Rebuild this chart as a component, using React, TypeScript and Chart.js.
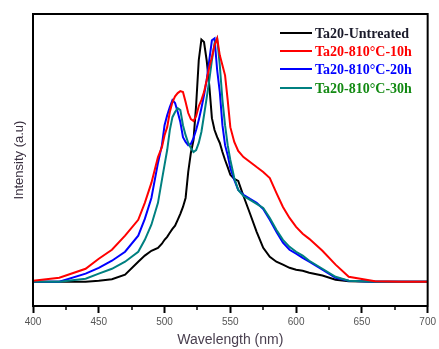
import React, { useEffect, useRef } from "react";
import { Chart, registerables } from "chart.js";

Chart.register(...registerables);

const wavelengths = [400, 420, 440, 450, 460, 470, 480, 485, 490, 495, 498, 500, 502, 504, 506, 508, 510, 512, 514, 516, 518, 520, 522, 524, 526, 528, 530, 532, 534, 536, 538, 540, 542, 544, 546, 548, 550, 553, 556, 560, 565, 570, 575, 580, 585, 590, 595, 600, 605, 610, 620, 630, 640, 660, 680, 700];

const untreated = [0, 0, 0, 0.004, 0.01, 0.029, 0.082, 0.107, 0.127, 0.139, 0.156, 0.172, 0.184, 0.201, 0.217, 0.23, 0.254, 0.279, 0.307, 0.344, 0.451, 0.529, 0.582, 0.725, 0.91, 0.995, 0.985, 0.91, 0.807, 0.672, 0.623, 0.594, 0.57, 0.533, 0.5, 0.471, 0.439, 0.422, 0.414, 0.352, 0.279, 0.205, 0.139, 0.102, 0.082, 0.07, 0.057, 0.049, 0.045, 0.037, 0.025, 0.008, 0.002, 0, 0, 0];

const h10 = [0.004, 0.016, 0.053, 0.094, 0.131, 0.189, 0.254, 0.324, 0.406, 0.512, 0.553, 0.602, 0.635, 0.697, 0.738, 0.762, 0.775, 0.783, 0.779, 0.738, 0.693, 0.668, 0.66, 0.68, 0.721, 0.746, 0.779, 0.828, 0.881, 0.922, 0.971, 1.0, 0.93, 0.889, 0.848, 0.746, 0.635, 0.574, 0.537, 0.512, 0.492, 0.471, 0.451, 0.426, 0.365, 0.307, 0.262, 0.225, 0.197, 0.176, 0.127, 0.07, 0.02, 0.002, 0, 0];

const h20 = [0, 0, 0.033, 0.057, 0.086, 0.123, 0.189, 0.258, 0.344, 0.488, 0.561, 0.643, 0.684, 0.717, 0.746, 0.734, 0.697, 0.656, 0.594, 0.574, 0.561, 0.566, 0.59, 0.623, 0.664, 0.713, 0.766, 0.828, 0.91, 0.992, 1.0, 0.869, 0.779, 0.643, 0.561, 0.52, 0.467, 0.418, 0.377, 0.357, 0.34, 0.324, 0.299, 0.254, 0.205, 0.16, 0.131, 0.115, 0.098, 0.082, 0.049, 0.016, 0.004, 0, 0, 0];

const h30 = [0, 0, 0.012, 0.033, 0.053, 0.082, 0.123, 0.172, 0.234, 0.324, 0.418, 0.48, 0.541, 0.623, 0.676, 0.697, 0.713, 0.705, 0.643, 0.602, 0.57, 0.549, 0.533, 0.541, 0.57, 0.615, 0.684, 0.754, 0.828, 0.91, 0.98, 1.0, 0.889, 0.746, 0.643, 0.561, 0.5, 0.426, 0.377, 0.352, 0.336, 0.32, 0.303, 0.262, 0.213, 0.172, 0.143, 0.123, 0.107, 0.086, 0.053, 0.02, 0.004, 0, 0, 0];

const seriesNames = ["Ta20-Untreated", "Ta20-810\u00B0C-10h", "Ta20-810\u00B0C-20h", "Ta20-810\u00B0C-30h"];
const lineColors = ["#000000", "#ff0000", "#0000ff", "#008080"];
const textColors = ["#1a1a2a", "#ff0000", "#0000ff", "#138a13"];
const majorTicks = [400, 450, 500, 550, 600, 650, 700];
const minorTicks = [425, 475, 525, 575, 625, 675];

export default function App() {
  const ref = useRef<HTMLCanvasElement | null>(null);

  useEffect(() => {
    const canvas = ref.current;
    if (!canvas) return;
    const series = [untreated, h10, h20, h30];
    const orders = [3, 0, 2, 1];

    const framePlugin = {
      id: "frame",
      afterDraw(chart: any) {
        const { ctx, chartArea } = chart;
        const xs = chart.scales.x;
        ctx.save();
        ctx.strokeStyle = "#000";
        ctx.lineWidth = 2;
        ctx.strokeRect(chartArea.left, chartArea.top, chartArea.right - chartArea.left, chartArea.bottom - chartArea.top);
        // minor ticks
        ctx.lineWidth = 1.5;
        ctx.beginPath();
        minorTicks.forEach((v) => {
          const px = Math.round(xs.getPixelForValue(v));
          ctx.moveTo(px, chartArea.bottom);
          ctx.lineTo(px, chartArea.bottom + 4);
        });
        ctx.stroke();
        // legend
        const x0 = 280, x1 = 312, tx = 315;
        const ys = [33, 51, 69, 88];
        ctx.font = "bold 14px 'Liberation Serif', serif";
        ctx.textBaseline = "middle";
        ctx.textAlign = "left";
        seriesNames.forEach((name, i) => {
          ctx.strokeStyle = lineColors[i];
          ctx.lineWidth = 2;
          ctx.beginPath();
          ctx.moveTo(x0, ys[i]);
          ctx.lineTo(x1, ys[i]);
          ctx.stroke();
          ctx.fillStyle = textColors[i];
          ctx.fillText(name, tx, ys[i] + 1);
        });
        ctx.restore();
      },
    };

    const chart = new Chart(canvas, {
      type: "line",
      data: {
        datasets: series.map((vals, i) => ({
          label: seriesNames[i],
          data: wavelengths.map((w, j) => ({ x: w, y: vals[j] })),
          borderColor: lineColors[i],
          backgroundColor: lineColors[i],
          borderWidth: 2,
          pointRadius: 0,
          tension: 0,
          fill: false,
          order: orders[i],
        })),
      },
      options: {
        animation: false,
        responsive: false,
        maintainAspectRatio: false,
        layout: { padding: { top: 14, right: 11, left: 0, bottom: 0 } },
        plugins: {
          legend: { display: false },
          tooltip: { enabled: false },
        },
        scales: {
          x: {
            type: "linear",
            min: 400,
            max: 700,
            afterBuildTicks: (scale: any) => {
              scale.ticks = majorTicks.map((v) => ({ value: v }));
            },
            afterFit: (scale: any) => {
              scale.height = 43;
            },
            ticks: {
              padding: 3,
              color: "#555",
              font: { family: "'Liberation Sans', Arial, sans-serif", size: 10 },
              maxRotation: 0,
              autoSkip: false,
              callback: (v: any) => String(v),
            },
            grid: {
              display: true,
              drawOnChartArea: false,
              drawTicks: true,
              tickLength: 7,
              tickColor: "#000",
              tickWidth: 2,
            },
            border: { display: true, color: "#000", width: 2 },
            title: {
              display: true,
              text: "Wavelength (nm)",
              color: "#4a4050",
              font: { family: "'Liberation Sans', Arial, sans-serif", size: 14 },
              padding: { top: 0, bottom: 0 },
            },
          },
          y: {
            type: "linear",
            min: -0.1,
            max: 1.1,
            afterFit: (scale: any) => {
              scale.width = 33;
            },
            ticks: { display: false },
            grid: { display: false },
            border: { display: true, color: "#000", width: 2 },
            title: {
              display: true,
              text: "Intensity (a.u)",
              color: "#3a3040",
              font: { family: "'Liberation Sans', Arial, sans-serif", size: 13 },
              padding: { top: 12, bottom: 0 },
            },
          },
        },
      },
      plugins: [framePlugin],
    });

    return () => chart.destroy();
  }, []);

  return (
    <div style={{ position: "fixed", left: 0, top: 0, width: 439, height: 349, background: "#fff" }}>
      <canvas ref={ref} width={439} height={349} />
    </div>
  );
}
